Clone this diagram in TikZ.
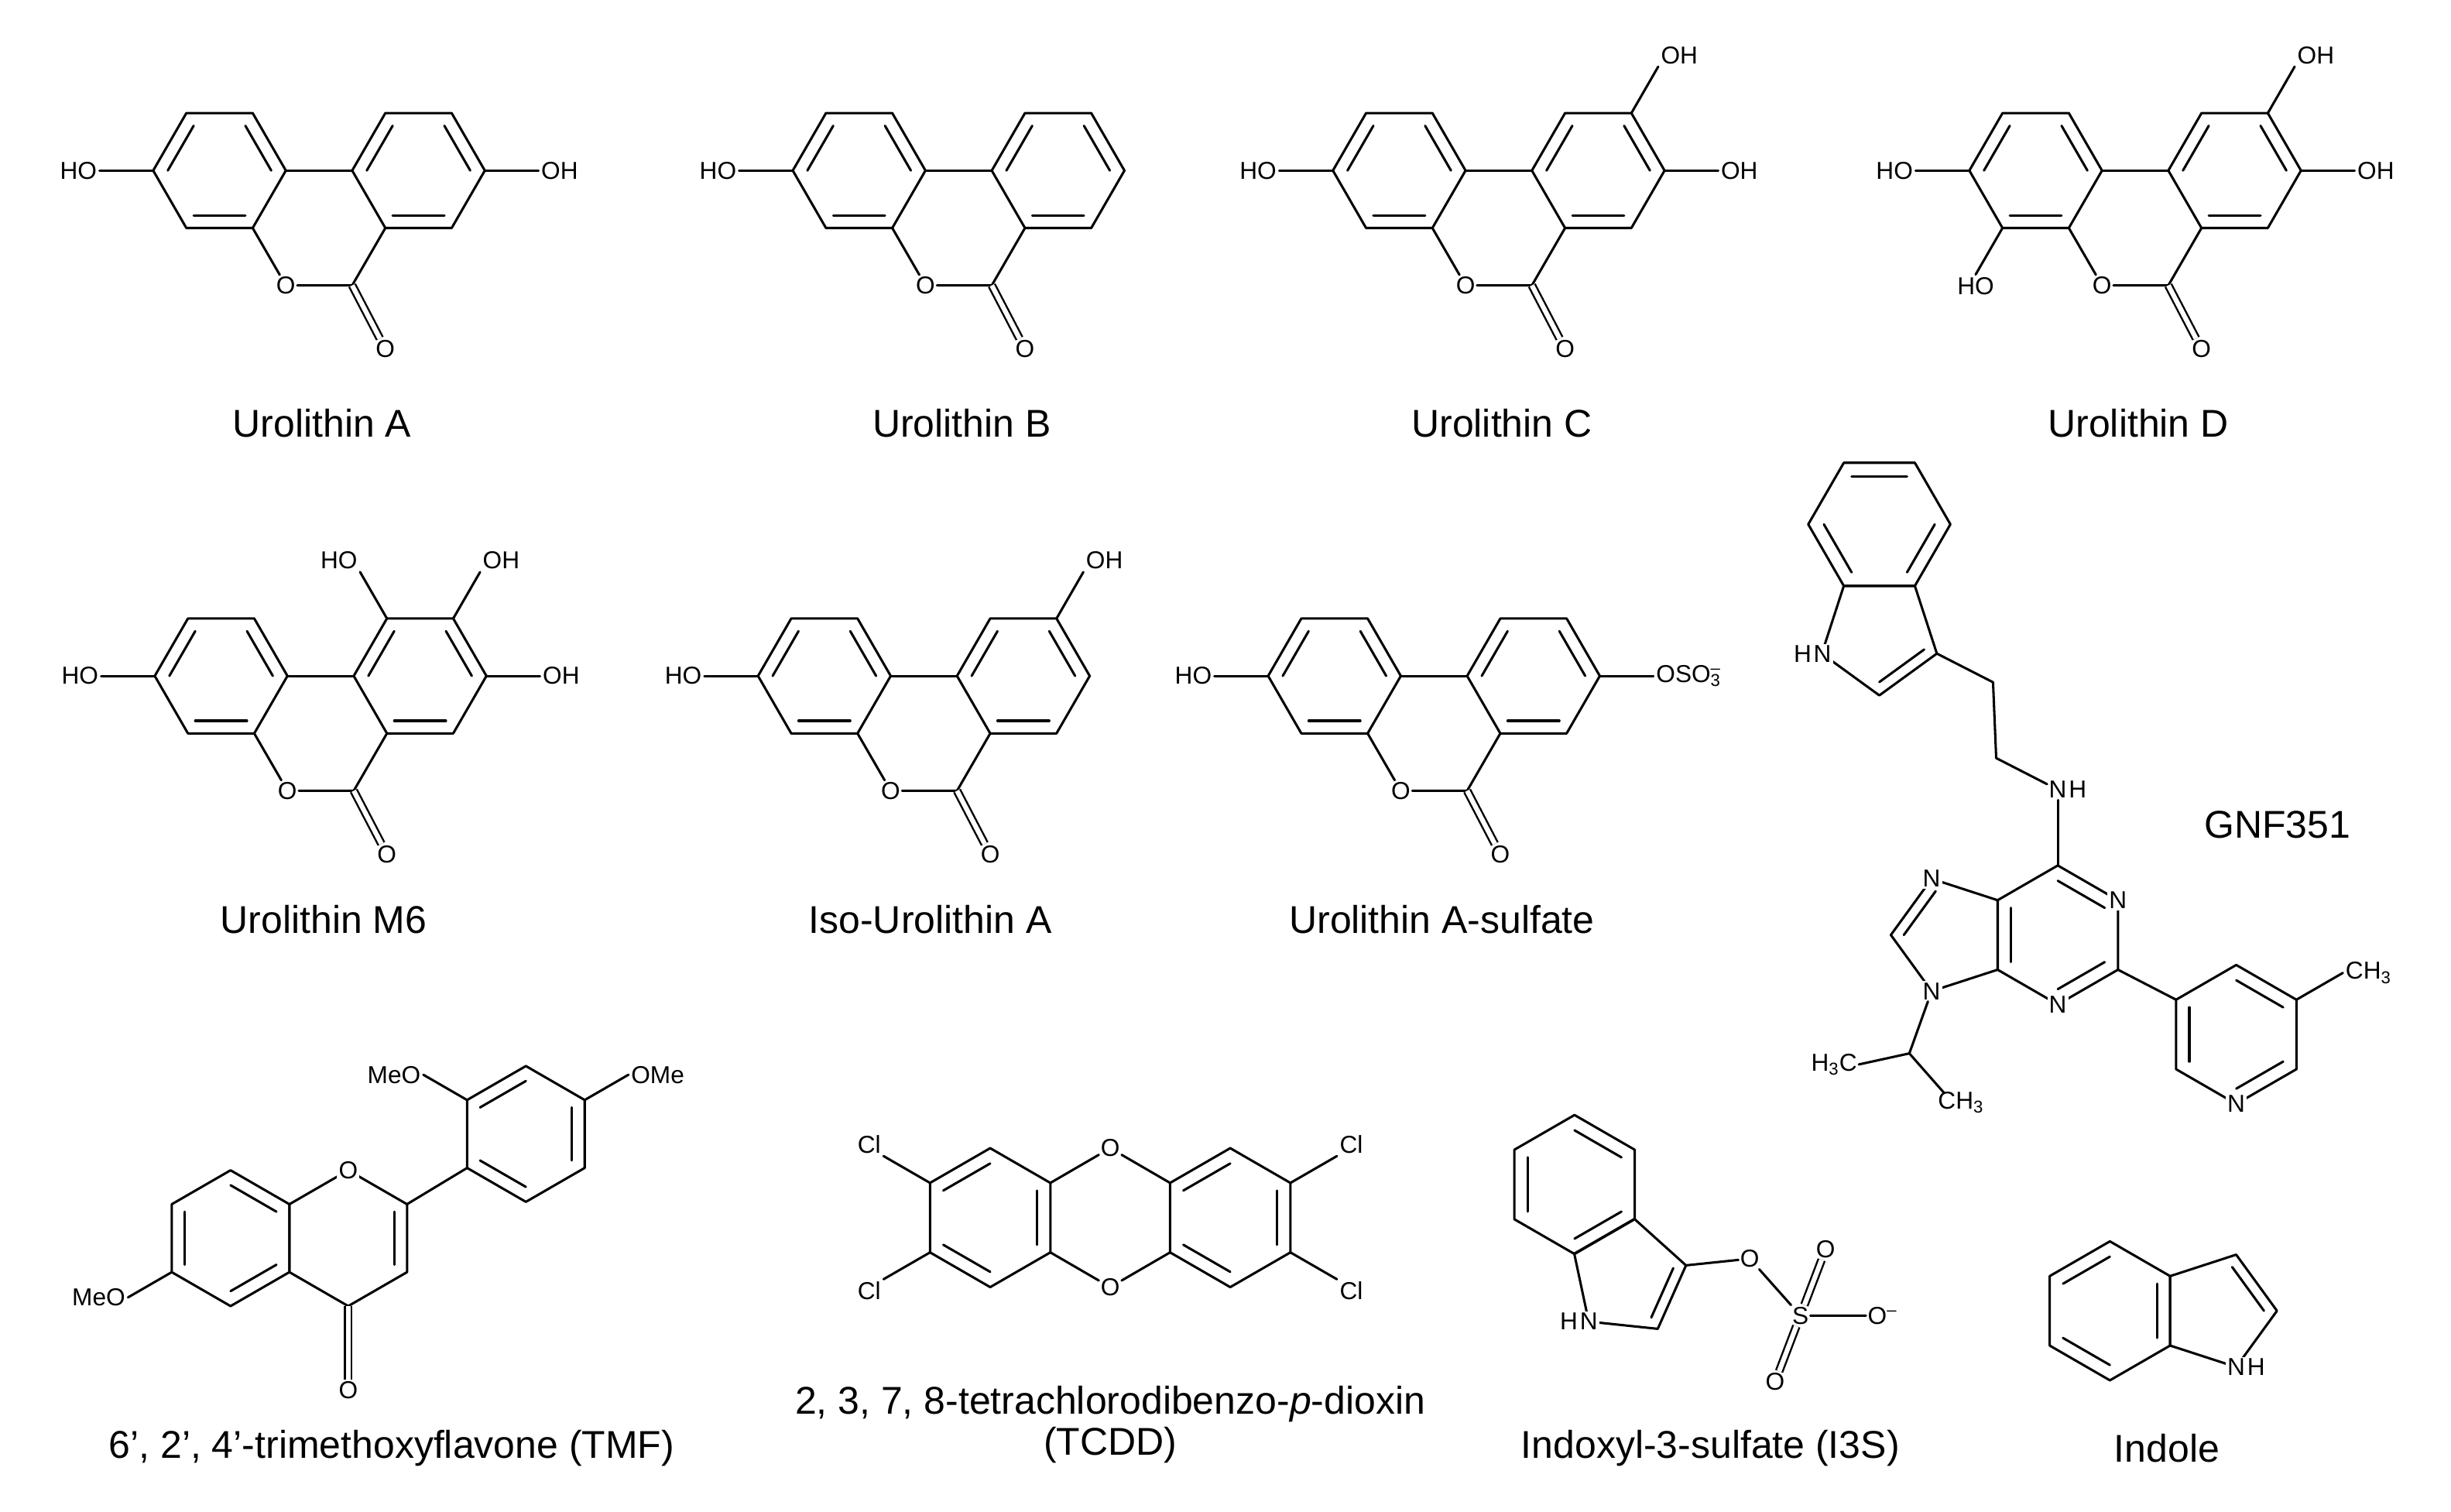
\documentclass[tikz,border=0pt]{standalone}
\usepackage{fontspec}
\setmainfont{Liberation Sans}
\tikzset{
 bond/.style={line width=1.5pt,line cap=round,line join=round},
 dbl/.style={double,double distance=3pt,line width=1.2pt},
 lab/.style={font=\fontsize{15.5}{15.5}\selectfont,inner sep=1pt,fill=white},
 ttl/.style={font=\fontsize{24.5}{26}\selectfont,align=center,inner sep=0pt}
}
\newcommand\chring[6]{%
 \begin{scope}[shift={(#1,#2)}]
 \draw[bond] (#5:#4) \foreach \k in {1,...,#3}{-- (#5+\k*360/#3:#4)} -- cycle;
 \foreach \k in {#6}{\draw[bond] (#5+\k*360/#3:0.78*#4) -- (#5+\k*360/#3+360/#3:0.78*#4);}
 \end{scope}}
\newcommand\chsub[8]{%
 \begin{scope}[shift={(#1,#2)}]
 \draw[bond] (#4:#3) -- (#4:#3+#5) node[lab,anchor=#6] (#8) {#7};
 \end{scope}}
\newcommand\churo[3]{%
 \chring{#1}{#2}{6}{42}{0}{1,3,5}
 \chring{#1+126}{#2}{6}{42}{0}{1,3,5}
 \draw[bond] (#1+42,#2) -- (#1+84,#2);
 \node[lab] (#3o) at (#1+42,#2+72.7) {O};
 \node[lab] (#3oo) at (#1+105,#2+113) {O};
 \coordinate (#3c) at (#1+84,#2+72.7);
 \draw[bond] (#1+21,#2+36.4) -- (#3o) -- (#3c) -- (#1+105,#2+36.4);
 \draw[dbl] (#3c) -- (#3oo);}
\begin{document}
\begin{tikzpicture}[x=1pt,y=-1pt]
\useasboundingbox (0,0) rectangle (1552,957);
% Row 1
\churo{139}{108}{ua}
\chsub{139}{108}{42}{180}{34}{east}{HO}{ua1}
\chsub{265}{108}{42}{0}{34}{west}{OH}{ua2}
\node[ttl] (tua) at (204,268) {Urolithin A};
\churo{544}{108}{ub}
\chsub{544}{108}{42}{180}{34}{east}{HO}{ub1}
\node[ttl] (tub) at (609,268) {Urolithin B};
\churo{886}{108}{uc}
\chsub{886}{108}{42}{180}{34}{east}{HO}{uc1}
\chsub{1012}{108}{42}{0}{34}{west}{OH}{uc2}
\chsub{1012}{108}{42}{300}{34}{south west}{OH}{uc3}
\node[ttl] (tuc) at (951,268) {Urolithin C};
\churo{1289}{108}{ud}
\chsub{1289}{108}{42}{180}{34}{east}{HO}{ud1}
\chsub{1289}{108}{42}{120}{34}{north}{HO}{ud4}
\chsub{1415}{108}{42}{0}{34}{west}{OH}{ud2}
\chsub{1415}{108}{42}{300}{34}{south west}{OH}{ud3}
\node[ttl] (tud) at (1354,268) {Urolithin D};
% Row 2
\churo{140}{428}{um}
\chsub{140}{428}{42}{180}{34}{east}{HO}{um1}
\chsub{266}{428}{42}{0}{34}{west}{OH}{um2}
\chsub{266}{428}{42}{300}{34}{south west}{OH}{um3}
\chsub{266}{428}{42}{240}{34}{south east}{HO}{um4}
\node[ttl] (tum) at (205,582) {Urolithin M6};
\churo{522}{428}{ui}
\chsub{522}{428}{42}{180}{34}{east}{HO}{ui1}
\chsub{648}{428}{42}{300}{34}{south west}{OH}{ui3}
\node[ttl] (tui) at (589,582) {Iso-Urolithin A};
\churo{845}{428}{us}
\chsub{845}{428}{42}{180}{34}{east}{HO}{us1}
\chsub{971}{428}{42}{0}{34}{west}{OSO\textsubscript{3}\llap{\textsuperscript{--}}}{us2}
\node[ttl] (tus) at (913,582) {Urolithin A-sulfate};
% GNF351
\chring{1190}{332}{6}{45}{0}{0,2,4}
\chring{1190}{402}{5}{38.3}{234}{2}
\node[lab] (gn1) at (1154,414) {N};
\node[lab,anchor=east,inner sep=0pt] (gn1h) at (gn1.west) {H};
\coordinate (g0) at (1226.4,413.8);
\coordinate (g1) at (1262,432);
\coordinate (g2) at (1264,480);
\node[lab] (gnh) at (1303,500) {N};
\node[lab,anchor=west,inner sep=0pt] (gnhh) at (gnh.east) {H};
\coordinate (gc6) at (1303,548);
\draw[bond] (g0) -- (g1) -- (g2) -- (gnh);
\draw[bond] (gnh) -- (gc6);
\chring{1303}{592}{6}{44}{270}{0,2,4}
\chring{1234.7}{592}{5}{37.4}{324}{3}
\node[lab] (gn1p) at (1341.1,570) {N};
\node[lab] (gn3p) at (1303,636) {N};
\node[lab] (gn9) at (1223.1,627.6) {N};
\node[lab] (gn7) at (1223.1,556.4) {N};
\coordinate (gch) at (1209,667);
\node[lab,anchor=east] (gme1) at (1177,674) {H\textsubscript{3}C};
\node[lab,anchor=north west] (gme2) at (1226,690) {CH\textsubscript{3}};
\draw[bond] (gn9) -- (gch) -- (gme1.east);
\draw[bond] (gch) -- (1231,692);
\coordinate (gc2) at (1341.1,614);
\coordinate (gc3) at (1377.9,633);
\draw[bond] (gc2) -- (gc3);
\chring{1416}{655}{6}{44}{270}{0,2,4}
\node[lab] (gnp) at (1416,699) {N};
\chsub{1416}{655}{44}{330}{34}{west}{CH\textsubscript{3}}{gme3}
\node[ttl] (tgnf) at (1442,522) {GNF351};
% TMF
\chring{146}{784}{6}{43}{270}{0,2,4}
\chring{220.5}{784}{6}{43}{270}{1}
\node[lab] (tmfo1) at (220.5,741) {O};
\node[lab] (tmfo2) at (220.5,880) {O};
\draw[dbl] (220.5,827) -- (tmfo2);
\chring{333}{718}{6}{43}{270}{1,3,5}
\draw[bond] (257.7,762.5) -- (295.8,739.5);
\chsub{333}{718}{43}{210}{32}{east}{MeO}{tmf1}
\chsub{333}{718}{43}{330}{32}{west}{OMe}{tmf2}
\chsub{146}{784}{43}{150}{32}{east}{MeO}{tmf3}
\node[ttl] (ttmf) at (248,917) {6', 2', 4'-trimethoxyflavone (TMF)};
% TCDD
\chring{627}{771}{6}{44}{270}{1,3,5}
\chring{779}{771}{6}{44}{270}{1,3,5}
\node[lab] (to1) at (703,727) {O};
\node[lab] (to2) at (703,815) {O};
\draw[bond] (665.1,749) -- (to1) -- (740.9,749);
\draw[bond] (665.1,793) -- (to2) -- (740.9,793);
\chsub{627}{771}{44}{210}{34}{south east}{Cl}{cl1}
\chsub{627}{771}{44}{150}{34}{north east}{Cl}{cl2}
\chsub{779}{771}{44}{330}{34}{south west}{Cl}{cl3}
\chsub{779}{771}{44}{30}{34}{north west}{Cl}{cl4}
\node[ttl] (ttcdd) at (703,902) {2, 3, 7, 8-tetrachlorodibenzo-\textit{p}-dioxin\\(TCDD)};
% I3S
\chring{997}{750}{6}{44}{270}{0,2,4}
\chring{1031}{809}{5}{37.4}{204}{2}
\node[lab] (i3n) at (1006,836.8) {N};
\node[lab,anchor=east,inner sep=0pt] (i3nh) at (i3n.west) {H};
\coordinate (i3c3) at (1067.6,801.2);
\node[lab] (i3o1) at (1108,797) {O};
\node[lab] (i3s) at (1140,833) {S};
\node[lab] (i3o2) at (1156,791) {O};
\node[lab] (i3o3) at (1124,875) {O};
\node[lab] (i3o4) at (1192,833) {O\textsuperscript{--}};
\draw[bond] (i3c3) -- (i3o1) -- (i3s) -- (i3o4);
\draw[dbl] (i3s) -- (i3o2);
\draw[dbl] (i3s) -- (i3o3);
\node[ttl] (ti3s) at (1083,917) {Indoxyl-3-sulfate (I3S)};
% Indole
\chring{1336}{830}{6}{44}{270}{1,3,5}
\chring{1404.4}{830}{5}{37.4}{144}{2}
\node[lab] (inn) at (1416,865.6) {N};
\node[lab,anchor=west,inner sep=0pt] (innh) at (inn.east) {H};
\node[ttl] (tind) at (1372,917) {Indole};
\end{tikzpicture}
\end{document}
